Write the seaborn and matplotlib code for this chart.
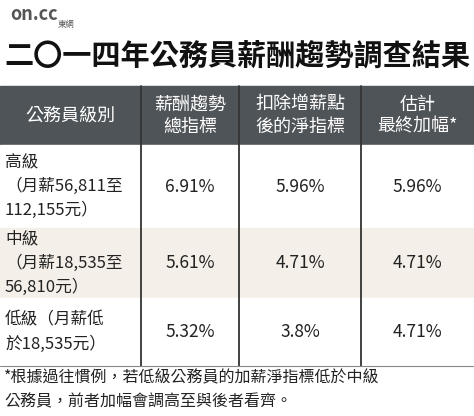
import matplotlib
matplotlib.use("Agg")
import matplotlib.pyplot as plt
import seaborn as sns
from matplotlib.patches import Rectangle

sns.set_theme(style="white")
plt.rcParams['font.family'] = ['Noto Sans CJK TC', 'DejaVu Sans']

title = "二〇一四年公務員薪酬趨勢調查結果"
headers = ["公務員級別", "薪酬趨勢\n總指標", "扣除增薪點\n後的淨指標", "估計\n最終加幅*"]
grades = ["高級\n（月薪56,811至\n112,155元）", "中級\n（月薪18,535至\n56,810元）", "低級（月薪低\n於18,535元）"]
gross = [6.91, 5.61, 5.32]
net = [5.96, 4.71, 3.8]
final = [5.96, 4.71, 4.71]
note = "*根據過往慣例，若低級公務員的加薪淨指標低於中級\n公務員，前者加幅會調高至與後者看齊。"

fig = plt.figure(figsize=(4.74, 4.16), dpi=100)
ax = fig.add_axes([0, 0, 1, 1])
ax.set_xlim(0, 474); ax.set_ylim(416, 0); ax.axis("off")
fig.patch.set_facecolor("white")

cols = [0, 141, 239, 361, 474]
rows = [86, 145, 228, 298, 366]
ax.add_patch(Rectangle((0, rows[0]), 474, rows[1]-rows[0], color="#4f5458"))
bgs = ["white", "#f4f0e9", "white"]
for i in range(3):
    ax.add_patch(Rectangle((0, rows[i+1]), 474, rows[i+2]-rows[i+1], color=bgs[i]))
for x in cols[1:4]:
    ax.plot([x, x], [rows[0], rows[-1]], color="#333333", lw=1.3)
ax.plot([0, 474], [rows[-1], rows[-1]], color="#888888", lw=0.8)

ax.text(237, 55, title, ha="center", va="center", fontsize=21, fontweight="bold", color="#111111")
ax.text(10, 14, "on.cc", ha="left", va="center", fontsize=13, fontweight="bold", color="#555555")
ax.text(58, 25, "東網", ha="left", va="center", fontsize=6, color="#555555")

for j, h in enumerate(headers):
    ax.text((cols[j]+cols[j+1])/2, (rows[0]+rows[1])/2, h, ha="center", va="center",
            fontsize=13, color="white", linespacing=1.3)
for i in range(3):
    yc = (rows[i+1]+rows[i+2])/2
    ax.text(5, yc, grades[i], ha="left", va="center", fontsize=12, color="#222222", linespacing=1.5)
    for j, v in enumerate([gross[i], net[i], final[i]]):
        s = f"{v:.2f}%" if v != 3.8 else "3.8%"
        ax.text((cols[j+1]+cols[j+2])/2, yc, s, ha="center", va="center", fontsize=12.5, color="#222222")
ax.text(4, 390, note, ha="left", va="center", fontsize=11.5, color="#222222", linespacing=1.5)

fig.savefig("out.png", dpi=100)
